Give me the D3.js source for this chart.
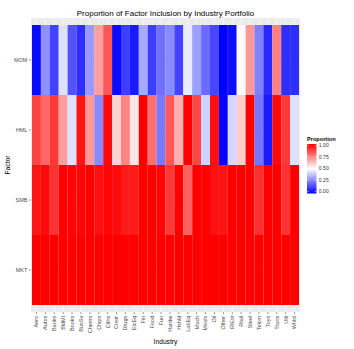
<!DOCTYPE html>
<html>
<head>
<meta charset="utf-8">
<script src="https://cdn.jsdelivr.net/npm/d3@7"></script>
<style>
  body { margin: 0; background: #fff; }
  svg { font-family: "Liberation Sans", Arial, sans-serif; }
</style>
</head>
<body>
<div id="chart"></div>
<script>
const industries = ['Aero', 'Autos', 'Banks', 'BldMt', 'Books', 'BusSv', 'Chems', 'Chips', 'Clths', 'Cnstr',
  'Drugs', 'ElcEq', 'Fin', 'Food', 'Fun', 'Hardw', 'Hshld', 'LabEq', 'Mach', 'Meals',
  'Oil', 'Other', 'RlEst', 'Rtail', 'Steel', 'Telcm', 'Toys', 'Trans', 'Util', 'Whlsl'];
const factors = ['MOM', 'HML', 'SMB', 'MKT'];

// proportion of inclusion per industry, one array per factor
const mom = [0.02, 0.28, 0.13, 0.44, 0.16, 0.09, 0.3, 0.69, 0.83, 0.02,
  0.12, 0.05, 0.33, 0.12, 0.22, 0.27, 0.13, 0.46, 0.31, 0.21,
  0.14, 0.0, 0.03, 0.51, 0.7, 0.25, 0.08, 0.75, 0.09, 0.09];
const hml = [0.87, 0.8, 0.89, 0.69, 0.44, 0.96, 0.7, 0.27, 0.98, 0.59,
  0.74, 0.55, 1.0, 0.78, 0.24, 0.83, 0.66, 1.0, 0.86, 0.41,
  0.97, 0.01, 0.42, 0.6, 1.0, 0.23, 0.05, 0.98, 0.89, 0.44];
const smb = [0.96, 0.98, 0.9, 1.0, 0.99, 0.99, 1.0, 0.97, 0.99, 0.98,
  0.95, 0.95, 1.0, 1.0, 0.99, 0.89, 1.0, 0.81, 1.0, 1.0,
  0.97, 0.96, 1.0, 1.0, 1.0, 0.91, 1.0, 1.0, 0.9, 1.0];
const mkt = [1.0, 1.0, 1.0, 1.0, 1.0, 1.0, 1.0, 1.0, 1.0, 1.0,
  1.0, 1.0, 1.0, 1.0, 1.0, 1.0, 1.0, 1.0, 1.0, 1.0,
  1.0, 1.0, 1.0, 1.0, 1.0, 1.0, 1.0, 1.0, 1.0, 1.0];
const legendTicks = [0, 0.25, 0.5, 0.75, 1];

const series = { MOM: mom, HML: hml, SMB: smb, MKT: mkt };
const cells = [];
factors.forEach(f => industries.forEach((ind, i) => cells.push({ factor: f, industry: ind, value: series[f][i] })));

const width = 354, height = 349;
const svg = d3.select('#chart').append('svg').attr('width', width).attr('height', height);

const x = d3.scaleBand().domain(industries).range([31.1, 299.9]).paddingInner(0).paddingOuter(0.1);
const y = d3.scaleBand().domain(factors).range([18, 312]).paddingInner(0).paddingOuter(0.1);

const color = d3.scaleLinear().domain([0, 0.5, 1]).range(['#0000ff', '#ffffff', '#ff0000']).interpolate(d3.interpolateRgb);

// panel background + grid
svg.append('rect').attr('x', 31.1).attr('y', 18).attr('width', 268.8).attr('height', 294).attr('fill', '#ebebeb');
svg.append('g').selectAll('line').data(industries).enter().append('line')
  .attr('x1', d => x(d) + x.bandwidth() / 2).attr('x2', d => x(d) + x.bandwidth() / 2)
  .attr('y1', 18).attr('y2', 312).attr('stroke', '#fff').attr('stroke-width', 0.6);
svg.append('g').selectAll('line').data(factors).enter().append('line')
  .attr('y1', d => y(d) + y.bandwidth() / 2).attr('y2', d => y(d) + y.bandwidth() / 2)
  .attr('x1', 31.1).attr('x2', 299.9).attr('stroke', '#fff').attr('stroke-width', 0.6);

svg.append('g').selectAll('rect').data(cells).enter().append('rect')
  .attr('x', d => x(d.industry))
  .attr('y', d => y(d.factor))
  .attr('width', x.bandwidth())
  .attr('height', y.bandwidth())
  .attr('fill', d => color(d.value));

// axes
const yAxis = svg.append('g').attr('transform', 'translate(31.1,0)')
  .call(d3.axisLeft(y).tickSize(2.2).tickPadding(1.5));
yAxis.select('.domain').remove();
yAxis.selectAll('line').attr('stroke', '#333').attr('stroke-width', 0.5);
yAxis.selectAll('text').attr('fill', '#4d4d4d').style('font-size', '5.5px').style('font-family', 'Liberation Sans, Arial, sans-serif');

const xAxis = svg.append('g').attr('transform', 'translate(0,312)')
  .call(d3.axisBottom(x).tickSize(2.2));
xAxis.select('.domain').remove();
xAxis.selectAll('line').attr('stroke', '#333').attr('stroke-width', 0.5);
xAxis.selectAll('text').attr('fill', '#4d4d4d').style('font-size', '5.5px').style('font-family', 'Liberation Sans, Arial, sans-serif')
  .attr('transform', 'rotate(-90)')
  .attr('x', -3.8).attr('y', 0).attr('dy', '0.35em')
  .attr('text-anchor', 'end');

// titles
svg.append('text').attr('x', 165.5).attr('y', 15.5).attr('text-anchor', 'middle')
  .style('font-size', '8px').attr('fill', '#000').text('Proportion of Factor Inclusion by Industry Portfolio');
svg.append('text').attr('x', 165.5).attr('y', 344).attr('text-anchor', 'middle')
  .style('font-size', '6.7px').attr('fill', '#000').text('Industry');
svg.append('text').attr('transform', 'translate(10,165) rotate(-90)').attr('text-anchor', 'middle')
  .style('font-size', '6.7px').attr('fill', '#000').text('Factor');

// legend
const lg = svg.append('g');
const barX = 307, barW = 9.5, barTop = 144, barBot = 193.5;
const ly = d3.scaleLinear().domain([0, 1]).range([191.7, 145.3]);
const grad = svg.append('defs').append('linearGradient').attr('id', 'pgrad')
  .attr('x1', 0).attr('y1', 1).attr('x2', 0).attr('y2', 0);
d3.range(0, 1.0001, 0.05).forEach(t => grad.append('stop').attr('offset', t).attr('stop-color', color(t)));
lg.append('text').attr('x', barX).attr('y', 141.3).style('font-size', '5.6px').style('font-weight', 'bold').text('Proportion');
lg.append('rect').attr('x', barX).attr('y', barTop).attr('width', barW).attr('height', barBot - barTop).attr('fill', 'url(#pgrad)');
lg.selectAll('.tl').data(legendTicks).enter().append('line')
  .attr('x1', barX).attr('x2', barX + 1.9).attr('y1', d => ly(d)).attr('y2', d => ly(d))
  .attr('stroke', '#fff').attr('stroke-width', 0.5);
lg.selectAll('.tr').data(legendTicks).enter().append('line')
  .attr('x1', barX + barW - 1.9).attr('x2', barX + barW).attr('y1', d => ly(d)).attr('y2', d => ly(d))
  .attr('stroke', '#fff').attr('stroke-width', 0.5);
lg.selectAll('.lbl').data(legendTicks).enter().append('text')
  .attr('x', barX + barW + 2.3).attr('y', d => ly(d)).attr('dy', '0.35em')
  .style('font-size', '5.1px').attr('fill', '#333').text(d => d3.format('.2f')(d));
</script>
</body>
</html>
